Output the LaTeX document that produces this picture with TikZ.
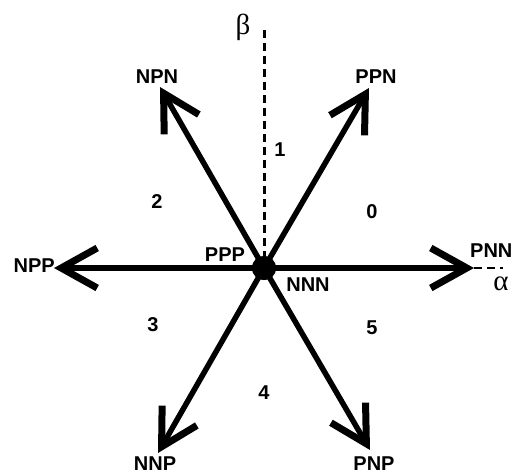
\documentclass[tikz,border=0pt]{standalone}
\usepackage{fontspec}
\setmainfont{Liberation Sans}
\newfontfamily\grk{Liberation Serif}
\usetikzlibrary{arrows.meta}
\begin{document}
\begin{tikzpicture}[x=1pt,y=-1pt,
 lbl/.style={font=\bfseries\fontsize{20}{20}\selectfont, inner sep=0pt},
 greek/.style={font=\grk\fontsize{29}{29}\selectfont, inner sep=0pt},
 vec/.style={line width=5.5pt, -{Straight Barb[length=36pt,width=40pt,line width=7pt]}},
 axis/.style={line width=3pt, dash pattern=on 8pt off 5pt}]
\useasboundingbox (0,0) rectangle (514,474);
\node[circle,fill=black,minimum size=24pt,inner sep=0pt] (c) at (264,268) {};
\coordinate (pnn) at (474,268);
\coordinate (npp) at (54,268);
\coordinate (ppn) at (369,88);
\coordinate (npn) at (160,87);
\coordinate (nnp) at (158,453);
\coordinate (pnp) at (370,450);
\coordinate (btop) at (264,30);
\coordinate (aend) at (503,268);
\draw[axis] (btop) -- (c.center);
\draw[axis,line width=2.5pt] (pnn) -- (aend);
\foreach \t in {pnn,npp,ppn,npn,nnp,pnp}{\draw[vec] (c.center) -- (\t);}
\node[circle,fill=black,minimum size=24pt,inner sep=0pt] at (c) {};
\node[greek] (beta) at (243,27) {β};
\node[greek] (alpha) at (501,284) {α};
\node[lbl,anchor=west] (lpnn) at (470,251) {PNN};
\node[lbl,anchor=east] (lnpp) at (55,266) {NPP};
\node[lbl] (lppn) at (376,77) {PPN};
\node[lbl] (lnpn) at (157,77) {NPN};
\node[lbl] (lnnp) at (155,464) {NNP};
\node[lbl] (lpnp) at (374,464) {PNP};
\node[lbl] (lppp) at (225,255) {PPP};
\node[lbl] (lnnn) at (308,285) {NNN};
\node[lbl] (s1) at (280,150) {1};
\node[lbl] (s2) at (157,202) {2};
\node[lbl] (s0) at (372,212) {0};
\node[lbl] (s3) at (153,325) {3};
\node[lbl] (s5) at (372,328) {5};
\node[lbl] (s4) at (264,393) {4};
\end{tikzpicture}
\end{document}
